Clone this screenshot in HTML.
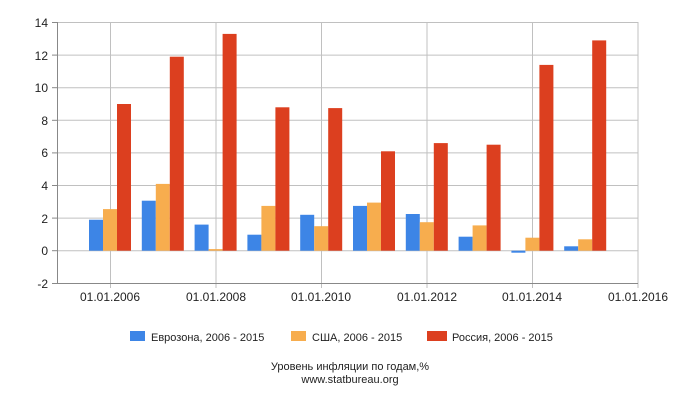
<!DOCTYPE html><html><head><meta charset="utf-8"><style>body{margin:0;background:#fff}svg{display:block;font-family:"Liberation Sans",sans-serif}</style></head><body>
<svg width="700" height="400" xmlns="http://www.w3.org/2000/svg">
<g stroke="#c0c0c0" stroke-width="1">
<line x1="57.5" y1="22.5" x2="638" y2="22.5"/><line x1="57.5" y1="55.1" x2="638" y2="55.1"/><line x1="57.5" y1="87.7" x2="638" y2="87.7"/><line x1="57.5" y1="120.3" x2="638" y2="120.3"/><line x1="57.5" y1="152.9" x2="638" y2="152.9"/><line x1="57.5" y1="185.5" x2="638" y2="185.5"/><line x1="57.5" y1="218.1" x2="638" y2="218.1"/><line x1="57.5" y1="250.7" x2="638" y2="250.7"/>
<line x1="110.5" y1="22" x2="110.5" y2="288"/><line x1="216" y1="22" x2="216" y2="288"/><line x1="321.5" y1="22" x2="321.5" y2="288"/><line x1="427" y1="22" x2="427" y2="288"/><line x1="532.5" y1="22" x2="532.5" y2="288"/><line x1="638" y1="22" x2="638" y2="288"/>
</g>
<g stroke="#888"><line x1="57.5" y1="22" x2="57.5" y2="284"/><line x1="57.5" y1="283.5" x2="638" y2="283.5"/>
<line x1="52" y1="22.5" x2="57.5" y2="22.5"/><line x1="52" y1="55.1" x2="57.5" y2="55.1"/><line x1="52" y1="87.7" x2="57.5" y2="87.7"/><line x1="52" y1="120.3" x2="57.5" y2="120.3"/><line x1="52" y1="152.9" x2="57.5" y2="152.9"/><line x1="52" y1="185.5" x2="57.5" y2="185.5"/><line x1="52" y1="218.1" x2="57.5" y2="218.1"/><line x1="52" y1="250.7" x2="57.5" y2="250.7"/><line x1="52" y1="283.5" x2="57.5" y2="283.5"/></g>
<g font-size="12" fill="#222" text-anchor="end">
<text x="48" y="27">14</text><text x="48" y="60">12</text><text x="48" y="92">10</text><text x="48" y="125">8</text><text x="48" y="157">6</text><text x="48" y="190">4</text><text x="48" y="223">2</text><text x="48" y="255">0</text><text x="48" y="288">-2</text></g>
<g font-size="12" fill="#222" text-anchor="middle">
<text x="110" y="301">01.01.2006</text><text x="216" y="301">01.01.2008</text><text x="321" y="301">01.01.2010</text><text x="427" y="301">01.01.2012</text><text x="532" y="301">01.01.2014</text><text x="638" y="301">01.01.2016</text></g>
<g fill="#3d85e6">
<rect x="89" y="219.7" width="14" height="31"/><rect x="141.8" y="200.7" width="14" height="50"/><rect x="194.6" y="224.6" width="14" height="26.1"/><rect x="247.4" y="234.7" width="14" height="16"/><rect x="300.2" y="214.8" width="14" height="35.9"/><rect x="353" y="205.9" width="14" height="44.8"/><rect x="405.8" y="214" width="14" height="36.7"/><rect x="458.6" y="236.7" width="14" height="14"/><rect x="511.4" y="250.7" width="14" height="2"/><rect x="564.2" y="246.3" width="14" height="4.4"/></g>
<g fill="#f7ad4e">
<rect x="103" y="209.1" width="14" height="41.6"/><rect x="155.8" y="183.9" width="14" height="66.8"/><rect x="208.6" y="249.1" width="14" height="1.6"/><rect x="261.4" y="205.9" width="14" height="44.8"/><rect x="314.2" y="226.2" width="14" height="24.5"/><rect x="367" y="202.6" width="14" height="48.1"/><rect x="419.8" y="222.2" width="14" height="28.5"/><rect x="472.6" y="225.4" width="14" height="25.3"/><rect x="525.4" y="237.7" width="14" height="13"/><rect x="578.2" y="239.3" width="14" height="11.4"/></g>
<g fill="#dc3f1f">
<rect x="117" y="104" width="14" height="146.7"/><rect x="169.8" y="56.7" width="14" height="194"/><rect x="222.6" y="33.9" width="14" height="216.8"/><rect x="275.4" y="107.3" width="14" height="143.4"/><rect x="328.2" y="108.1" width="14" height="142.6"/><rect x="381" y="151.3" width="14" height="99.4"/><rect x="433.8" y="143.1" width="14" height="107.6"/><rect x="486.6" y="144.7" width="14" height="106"/><rect x="539.4" y="64.9" width="14" height="185.8"/><rect x="592.2" y="40.4" width="14" height="210.3"/></g>
<rect x="130" y="331" width="15" height="10" fill="#3d85e6"/><text x="151" y="341" font-size="11" fill="#222">Еврозона, 2006 - 2015</text>
<rect x="291" y="331" width="15" height="10" fill="#f7ad4e"/><text x="312" y="341" font-size="11" fill="#222">США, 2006 - 2015</text>
<rect x="427" y="331" width="20" height="10" fill="#dc3f1f"/><text x="452" y="341" font-size="11" fill="#222">Россия, 2006 - 2015</text>
<text x="350" y="370" font-size="11" fill="#222" text-anchor="middle">Уровень инфляции по годам,%</text>
<text x="350" y="383" font-size="11" fill="#222" text-anchor="middle">www.statbureau.org</text>
</svg></body></html>
